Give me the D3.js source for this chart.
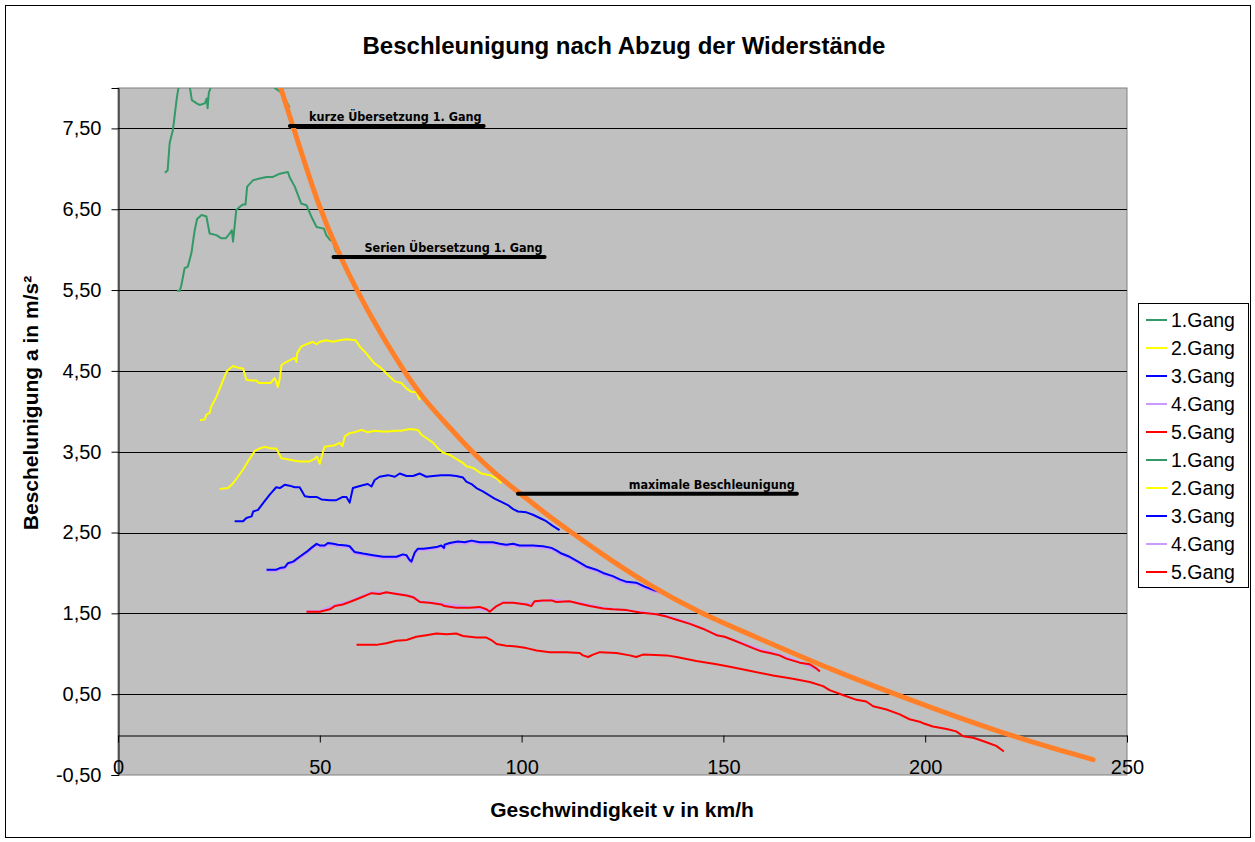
<!DOCTYPE html>
<html lang="de">
<head>
<meta charset="UTF-8">
<title>Beschleunigung</title>
<style>
  body { margin: 0; background: #fff; }
  text { font-family: "Liberation Sans", Arial, sans-serif; }
</style>
</head>
<body>
<script src="https://d3js.org/d3.v7.min.js"></script>
<div id="chart"></div>
<script>
// ---- data: [v km/h, a m/s²] ----
var gang1Kurz = [[11.6,6.95],[12.3,6.98],[12.8,7.32],[13.6,7.48],[14.0,7.64],[14.5,7.85],[15.0,8.01],[16.0,8.15],[17.0,8.12],
  [17.8,8.01],[18.3,7.85],[19.5,7.81],[20.2,7.79],[21.5,7.81],[22.0,7.87],[22.2,7.75],[22.5,7.94],[23.0,8.01],[24.5,8.25],
  [26,8.3],[28,8.45],[30,8.65],[32,8.75],[34,8.78],[36,8.7],[37.5,8.3],[38.3,8.02],[40.6,7.94],[42.5,7.76]];
var gang2Kurz = [[20.3,3.89],[21.5,3.90],[21.9,3.96],[22.7,3.98],[23.1,4.06],[24.4,4.18],[25.6,4.33],[26.9,4.49],[27.7,4.53],
  [28.5,4.56],[29.7,4.54],[31.0,4.53],[31.8,4.39],[33.1,4.38],[34.3,4.38],[34.9,4.35],[37.8,4.35],[38.8,4.41],[39.2,4.37],
  [39.6,4.30],[40.1,4.41],[40.5,4.57],[41.3,4.60],[42.5,4.63],[43.8,4.66],[44.2,4.61],[44.4,4.72],[45.4,4.80],[46.7,4.83],
  [48.3,4.86],[49.2,4.83],[50.0,4.86],[51.6,4.88],[53.3,4.86],[54.9,4.88],[56.6,4.89],[58.9,4.88],[59.9,4.80],[61.1,4.74],
  [62.4,4.66],[63.6,4.59],[64.8,4.55],[66.1,4.49],[67.3,4.43],[68.6,4.37],[70.2,4.35],[71.5,4.28],[72.7,4.24],[73.9,4.24],[74.8,4.14]];
var gang3Kurz = [[28.9,2.64],[31.0,2.64],[31.8,2.68],[33.1,2.70],[33.5,2.76],[34.7,2.78],[35.9,2.86],[37.6,2.97],[39.2,3.06],
  [40.1,3.05],[41.3,3.09],[42.5,3.08],[43.8,3.06],[45.0,3.06],[46.3,2.95],[47.5,2.94],[49.2,2.94],[50.4,2.91],[52.5,2.90],
  [54.1,2.90],[55.7,2.94],[56.6,2.94],[57.4,2.87],[58.2,3.05],[59.5,3.07],[61.1,3.09],[61.9,3.10],[62.8,3.07],[63.6,3.15],
  [64.8,3.19],[66.9,3.21],[68.6,3.19],[69.8,3.23],[71.5,3.20],[73.1,3.20],[74.8,3.23],[76.4,3.19],[78.1,3.20],[80.1,3.21],
  [82.2,3.21],[83.8,3.20],[85.5,3.18],[86.3,3.13],[87.6,3.10],[88.8,3.05],[90.4,3.01],[91.7,2.97],[93.3,2.92],[95.0,2.88],
  [96.6,2.84],[97.9,2.79],[99.1,2.76],[101.2,2.75],[102.8,2.72],[104.5,2.68],[106.1,2.64],[107.8,2.58],[109.4,2.53]];
var gang4Kurz = [[36.8,2.02],[39.2,2.02],[40.1,2.04],[41.3,2.05],[42.1,2.10],[43.4,2.12],[45.0,2.18],[46.7,2.24],[47.9,2.29],
  [49.2,2.34],[50.0,2.32],[51.2,2.32],[52.0,2.35],[53.3,2.34],[54.5,2.33],[56.6,2.32],[57.4,2.31],[58.6,2.24],[60.7,2.22],
  [63.2,2.20],[65.7,2.18],[69.0,2.18],[70.6,2.21],[71.5,2.20],[72.1,2.15],[72.7,2.12],[73.5,2.23],[74.3,2.28],[75.6,2.28],
  [77.2,2.29],[78.9,2.30],[80.1,2.32],[80.8,2.29],[80.9,2.33],[82.2,2.35],[84.2,2.37],[85.9,2.36],[87.6,2.38],[89.6,2.36],
  [91.3,2.36],[92.9,2.36],[94.6,2.34],[96.2,2.33],[97.9,2.34],[99.5,2.32],[101.2,2.32],[102.8,2.32],[105.3,2.31],[107.4,2.29],
  [108.6,2.26],[109.9,2.22],[111.9,2.18],[114.0,2.12],[116.0,2.06],[118.5,2.02],[120.2,1.98],[122.6,1.94],[124.3,1.90],
  [126.0,1.87],[128.4,1.86],[130.5,1.81],[132.6,1.77],[134.2,1.75]];
var gang5Kurz = [[46.7,1.52],[50.0,1.52],[52.5,1.55],[53.7,1.59],[55.7,1.61],[57.4,1.64],[59.9,1.69],[62.8,1.75],[64.8,1.74],
  [66.5,1.76],[69.0,1.74],[71.5,1.72],[73.1,1.70],[74.8,1.64],[77.2,1.63],[80.1,1.61],[80.9,1.59],[83.8,1.57],[87.1,1.57],
  [89.6,1.58],[91.3,1.55],[92.1,1.52],[93.8,1.59],[95.4,1.63],[97.9,1.63],[101.2,1.61],[102.4,1.59],[103.2,1.65],[105.3,1.66],
  [107.4,1.66],[108.6,1.64],[111.9,1.65],[114.4,1.62],[116.9,1.59],[120.2,1.56],[122.6,1.55],[126.0,1.54],[129.3,1.51],
  [133.4,1.49],[135.9,1.46],[138.4,1.42],[141.7,1.37],[144.9,1.31],[148.3,1.23],[150.3,1.21],[152.4,1.17],[154.9,1.12],
  [157.3,1.07],[159.4,1.03],[161.5,1.01],[163.9,0.98],[165.6,0.94],[168.9,0.89],[171.4,0.87],[173.0,0.82],[173.9,0.78]];
var gang1Serie = [[14.6,5.49],[15.3,5.49],[15.7,5.56],[16.5,5.77],[17.3,5.79],[18.2,5.96],[19.0,6.24],[19.6,6.38],[20.7,6.43],
  [21.9,6.41],[22.7,6.20],[24.4,6.18],[25.6,6.14],[26.7,6.14],[27.7,6.20],[28.2,6.24],[28.5,6.10],[29.3,6.49],[30.2,6.53],
  [31.0,6.56],[31.6,6.56],[32.0,6.78],[33.5,6.86],[35.1,6.88],[36.8,6.90],[38.4,6.90],[40.1,6.94],[42.1,6.96],[42.5,6.90],
  [43.8,6.78],[45.4,6.57],[46.7,6.55],[47.9,6.41],[49.2,6.28],[51.0,6.26],[51.6,6.18],[52.5,6.12],[53.3,6.10],[53.7,6.02],[54.1,5.97]];
var gang2Serie = [[25.2,3.04],[27.3,3.05],[28.5,3.11],[29.7,3.19],[31.0,3.28],[32.2,3.38],[33.9,3.51],[35.1,3.54],[36.3,3.56],
  [38.0,3.54],[39.2,3.54],[40.5,3.42],[41.7,3.41],[43.4,3.39],[45.0,3.38],[47.5,3.38],[48.7,3.41],[49.3,3.44],[50.0,3.35],
  [50.8,3.50],[51.2,3.56],[52.5,3.57],[53.7,3.58],[54.9,3.61],[55.6,3.57],[56.2,3.69],[57.4,3.73],[58.6,3.74],[60.3,3.77],
  [61.9,3.74],[63.6,3.76],[65.3,3.75],[66.9,3.75],[68.6,3.76],[70.2,3.76],[72.3,3.78],[74.3,3.77],[75.2,3.71],[76.4,3.67],
  [78.1,3.61],[79.3,3.54],[80.5,3.49],[82.2,3.46],[83.8,3.41],[85.5,3.36],[86.3,3.32],[88.0,3.30],[90.0,3.23],[92.1,3.21],
  [93.8,3.17],[95.0,3.11]];
var gang3Serie = [[36.8,2.04],[39.2,2.04],[40.1,2.06],[41.3,2.07],[42.1,2.12],[43.4,2.14],[45.0,2.20],[46.7,2.26],[47.9,2.31],
  [49.2,2.36],[50.0,2.34],[51.2,2.34],[52.0,2.37],[53.3,2.36],[54.5,2.35],[56.6,2.34],[57.4,2.33],[58.6,2.26],[60.7,2.24],
  [63.2,2.22],[65.7,2.20],[69.0,2.20],[70.6,2.23],[71.5,2.22],[72.1,2.17],[72.7,2.14],[73.5,2.25],[74.3,2.30],[75.6,2.30],
  [77.2,2.31],[78.9,2.32],[80.1,2.34],[80.8,2.31],[80.9,2.35],[82.2,2.37],[84.2,2.39],[85.9,2.38],[87.6,2.40],[89.6,2.38],
  [91.3,2.38],[92.9,2.38],[94.6,2.36],[96.2,2.35],[97.9,2.36],[99.5,2.34],[101.2,2.34],[102.8,2.34],[105.3,2.33],[107.4,2.31],
  [108.6,2.28],[109.9,2.24],[111.9,2.20],[114.0,2.14],[116.0,2.08],[118.5,2.04],[120.2,2.00],[122.6,1.96],[124.3,1.92],
  [126.0,1.89],[128.4,1.88],[130.5,1.83],[132.6,1.79],[134.2,1.77]];
var gang4Serie = [[46.7,1.53],[50.0,1.53],[53.7,1.60],[57.4,1.65],[62.8,1.76],[69.0,1.75],[73.1,1.71],[74.8,1.65],[80.1,1.62],
  [87.1,1.58],[92.1,1.53],[95.4,1.64],[101.2,1.62],[107.4,1.67],[114.4,1.63],[120.2,1.57],[129.3,1.52],[135.9,1.47],
  [141.7,1.38],[148.3,1.24],[154.9,1.13],[159.4,1.05],[163.9,0.99],[168.9,0.90],[173.9,0.79]];
var gang5Serie = [[59.1,1.11],[64.0,1.11],[66.5,1.13],[69.0,1.16],[71.5,1.17],[73.9,1.21],[76.4,1.23],[78.9,1.25],[81.4,1.24],
  [83.8,1.25],[85.5,1.22],[88.8,1.20],[91.3,1.20],[92.5,1.17],[93.8,1.12],[96.2,1.10],[98.7,1.09],[101.2,1.07],[103.7,1.04],
  [107.0,1.02],[111.1,1.02],[114.4,1.01],[115.2,0.98],[116.5,0.96],[117.7,0.99],[119.4,1.02],[123.5,1.01],[126.8,0.98],
  [128.4,0.96],[130.1,0.99],[135.9,0.98],[138.4,0.96],[143.3,0.91],[148.3,0.87],[151.6,0.84],[156.5,0.79],[162.3,0.73],
  [167.2,0.69],[171.4,0.65],[174.7,0.60],[176.3,0.55],[179.6,0.49],[183.0,0.43],[185.4,0.41],[187.1,0.35],[190.4,0.31],
  [193.7,0.25],[196.1,0.19],[198.6,0.16],[199.5,0.14],[201.9,0.10],[205.3,0.07],[207.7,0.04],[209.4,-0.02],[211.9,-0.04],
  [214.3,-0.08],[216.0,-0.11],[217.6,-0.14],[219.5,-0.21]];
var maxBeschleunigung = [[40,8.05],[45,7.27],[49.2,6.61],[54.9,5.91],[63,5.13],[70.6,4.51],[75.6,4.16],[81.4,3.84],[88,3.48],
  [93.8,3.21],[99.5,2.99],[106,2.73],[112.7,2.49],[118.5,2.28],[131.7,1.84],[144,1.51],[156.5,1.24],[164.8,1.06],[177,0.8],
  [193,0.49],[218.5,0.02],[241.6,-0.31]];

var seriesNames = ["1.Gang","2.Gang","3.Gang","4.Gang","5.Gang","1.Gang","2.Gang","3.Gang","4.Gang","5.Gang"];
var seriesColors = ["#339966","#ffff00","#0000ff","#cc99ff","#ff0000","#339966","#ffff00","#0000ff","#cc99ff","#ff0000"];
var seriesData = [gang1Kurz, gang2Kurz, gang3Kurz, gang4Kurz, gang5Kurz, gang1Serie, gang2Serie, gang3Serie, gang4Serie, gang5Serie];
var drawOrder = [8, 3, 0, 1, 2, 4, 5, 6, 7, 9];

var yTicks = [-0.5, 0.5, 1.5, 2.5, 3.5, 4.5, 5.5, 6.5, 7.5];
var xTicks = [0, 50, 100, 150, 200, 250];

// annotation bars: [label, vStart, vEnd, a]
var notes = [
  ["kurze Übersetzung 1. Gang", 42.6, 90.6, 7.53],
  ["Serien Übersetzung 1. Gang", 53.4, 105.7, 5.91],
  ["maximale Beschleunigung", 99.1, 168.2, 2.98]
];

var W = 1255, H = 842;
var plot = { left: 118, right: 1127, top: 88, bottom: 775 };

var svg = d3.select("#chart").append("svg")
  .attr("width", W).attr("height", H);

svg.append("rect").attr("x", 5.5).attr("y", 5.5)
  .attr("width", 1245).attr("height", 832)
  .attr("fill", "#fff").attr("stroke", "#000");

var x = d3.scaleLinear().domain([0, 250]).range([plot.left, plot.right]);
var y = d3.scaleLinear().domain([-0.5, 8]).range([plot.bottom, plot.top]);

svg.append("rect")
  .attr("x", plot.left).attr("y", plot.top)
  .attr("width", plot.right - plot.left).attr("height", plot.bottom - plot.top)
  .attr("fill", "#c0c0c0").attr("stroke", "#808080");

svg.append("clipPath").attr("id", "clip").append("rect")
  .attr("x", plot.left).attr("y", plot.top)
  .attr("width", plot.right - plot.left).attr("height", plot.bottom - plot.top);

// gridlines
svg.append("g").selectAll("line").data(yTicks.slice(1)).enter().append("line")
  .attr("x1", plot.left).attr("x2", plot.right)
  .attr("y1", d => Math.round(y(d)) + 0.5).attr("y2", d => Math.round(y(d)) + 0.5)
  .attr("stroke", "#000");

// y axis
var fmt = d => d3.format(".2f")(d).replace(".", ",").replace("−", "-");
var yAxis = svg.append("g")
  .attr("transform", "translate(" + (plot.left + 0.5) + ",0)")
  .call(d3.axisLeft(y).tickValues(yTicks).tickFormat(fmt).tickSize(7).tickPadding(10));
yAxis.select(".domain").attr("stroke", "#000");
yAxis.selectAll("text").attr("font-size", 20).attr("fill", "#000")
  .style("font-family", "'Liberation Sans', Arial, sans-serif");

// x axis at a = 0
var xAxis = svg.append("g")
  .attr("transform", "translate(0," + (Math.round(y(0)) + 0.5) + ")")
  .call(d3.axisBottom(x).tickValues(xTicks).tickSize(7).tickPadding(17).tickSizeOuter(0));
xAxis.select(".domain").attr("stroke", "#000");
xAxis.selectAll("text").attr("font-size", 20).attr("fill", "#000")
  .style("font-family", "'Liberation Sans', Arial, sans-serif");

// series
var line = d3.line().x(d => x(d[0])).y(d => y(d[1]));
var g = svg.append("g").attr("clip-path", "url(#clip)");
drawOrder.forEach(function (i) {
  g.append("path").datum(seriesData[i])
    .attr("fill", "none").attr("stroke", seriesColors[i])
    .attr("stroke-width", 2).attr("stroke-linejoin", "round")
    .attr("d", line);
});

// smooth envelope curve
g.append("path").datum(maxBeschleunigung)
  .attr("fill", "none").attr("stroke", "#ff8028")
  .attr("stroke-width", 5).attr("stroke-linecap", "round")
  .attr("d", line.curve(d3.curveBasis));

// annotations
notes.forEach(function (n) {
  svg.append("line")
    .attr("x1", x(n[1])).attr("x2", x(n[2]))
    .attr("y1", y(n[3])).attr("y2", y(n[3]))
    .attr("stroke", "#000").attr("stroke-width", 4).attr("stroke-linecap", "round");
  svg.append("text")
    .attr("x", x(n[2]) - 2).attr("y", y(n[3]) - 5)
    .attr("text-anchor", "end")
    .attr("font-size", 12.5).attr("font-weight", "bold")
    .style("font-family", "'DejaVu Sans Condensed', 'DejaVu Sans', sans-serif")
    .text(n[0]);
});

// titles
svg.append("text").attr("x", 624).attr("y", 54).attr("text-anchor", "middle")
  .attr("font-size", 24).attr("font-weight", "bold").text("Beschleunigung nach Abzug der Widerstände");
svg.append("text").attr("x", 622).attr("y", 817).attr("text-anchor", "middle")
  .attr("font-size", 21).attr("font-weight", "bold").text("Geschwindigkeit v in km/h");
svg.append("text").attr("transform", "translate(38,403) rotate(-90)").attr("text-anchor", "middle")
  .attr("font-size", 21).attr("font-weight", "bold").text("Beschelunigung a in m/s²");

// legend
var leg = svg.append("g");
leg.append("rect").attr("x", 1138.5).attr("y", 303.5).attr("width", 110).attr("height", 284)
  .attr("fill", "#fff").attr("stroke", "#000");
seriesNames.forEach(function (name, i) {
  var yy = 320 + i * 28;
  leg.append("line").attr("x1", 1146).attr("x2", 1167).attr("y1", yy).attr("y2", yy)
    .attr("stroke", seriesColors[i]).attr("stroke-width", 2);
  leg.append("text").attr("x", 1171).attr("y", yy + 7)
    .attr("font-size", 19.5).text(name);
});
</script>
</body>
</html>
